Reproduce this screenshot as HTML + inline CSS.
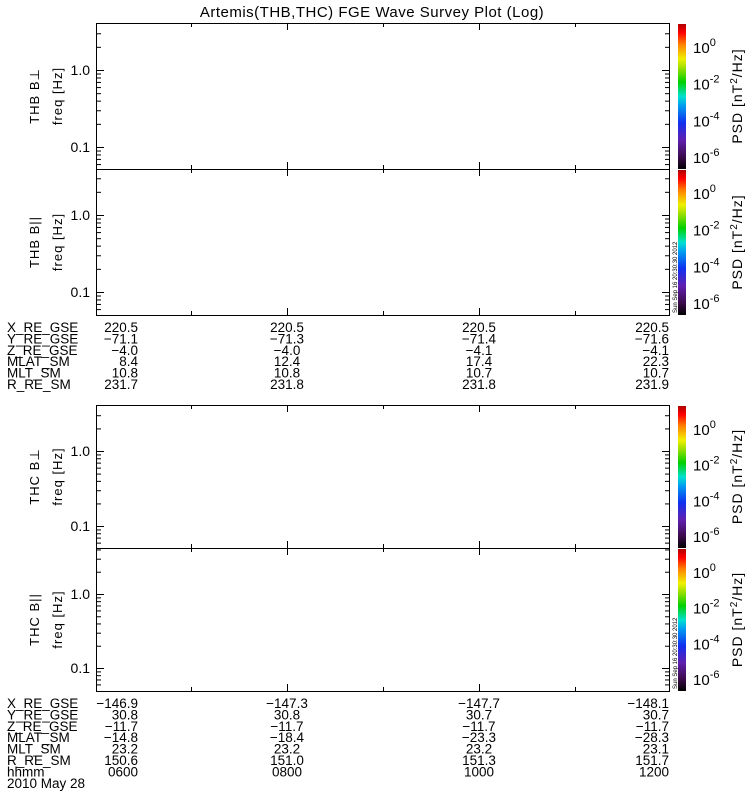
<!DOCTYPE html>
<html><head><meta charset="utf-8"><style>
body{margin:0;background:#fff;width:750px;height:800px;overflow:hidden}
svg{display:block}
text{font-family:"Liberation Sans",sans-serif;fill:#000}
</style></head><body>
<svg id="s" width="750" height="800" xmlns="http://www.w3.org/2000/svg">
<defs>
<linearGradient id="cb" x1="0" y1="1" x2="0" y2="0">
<stop offset="0" stop-color="#000"/>
<stop offset="0.08" stop-color="#3a0a48"/>
<stop offset="0.2" stop-color="#6020b0"/>
<stop offset="0.32" stop-color="#1030f0"/>
<stop offset="0.44" stop-color="#00a0f0"/>
<stop offset="0.5" stop-color="#00e0d0"/>
<stop offset="0.6" stop-color="#00d000"/>
<stop offset="0.7" stop-color="#a0e000"/>
<stop offset="0.76" stop-color="#f0f000"/>
<stop offset="0.86" stop-color="#ff8000"/>
<stop offset="0.94" stop-color="#ff0000"/>
<stop offset="1" stop-color="#b00000"/>
</linearGradient>
</defs>
<text x="372" y="17" font-size="15" text-anchor="middle" letter-spacing="0.5">Artemis(THB,THC) FGE Wave Survey Plot (Log)</text>
</svg>
<script>
const s=document.getElementById('s');const NS='http://www.w3.org/2000/svg';
function el(t,a,txt){const e=document.createElementNS(NS,t);for(const k in a)e.setAttribute(k,a[k]);if(txt!==undefined)e.textContent=txt;s.appendChild(e);return e;}
function line(x1,y1,x2,y2){el('line',{x1,y1,x2,y2,stroke:'#000','stroke-width':1});}
const L=96,R=669;
const panels=[[23,169,70,147,'THB B⊥'],[169,315,215,292,'THB B||'],[405,548,451,526,'THC B⊥'],[548,691,594,668,'THC B||']];
panels.forEach(([t,b,y1,y01,lab],i)=>{
 el('rect',{x:L+.5,y:t+.5,width:R-L,height:b-t,fill:'none',stroke:'#000'});
 const dec=y01-y1;
 for(let d=-2;d<=1;d++){for(let m=1;m<10;m++){
   const y=y01-(d+1+Math.log10(m))*dec;
   if(y<t+1||y>b-1)continue;
   const len=m==1?8:5;
   line(L,y+.5,L+len,y+.5);line(R-len+1,y+.5,R+1,y+.5);
 }}
 [287,479].forEach(x=>{line(x+.5,b,x+.5,b-7);line(x+.5,t,x+.5,t+7);});
 [191,383,575].forEach(x=>{line(x+.5,b,x+.5,b-4);line(x+.5,t,x+.5,t+4);});
 el('text',{x:90,y:y1+5,'font-size':14,'text-anchor':'end'},'1.0');
 el('text',{x:90,y:y01+5,'font-size':14,'text-anchor':'end'},'0.1');
 const cy=(t+b)/2;
 el('text',{x:0,y:0,'font-size':13,'text-anchor':'middle','letter-spacing':1,transform:`translate(39,${cy}) rotate(-90)`},lab);
 el('text',{x:0,y:0,'font-size':13,'text-anchor':'middle','letter-spacing':1,transform:`translate(62,${cy}) rotate(-90)`},'freq [Hz]');
 el('rect',{x:678,y:t+1,width:8,height:b-t-1,fill:'url(#cb)'});
 const c0=t+24, step=(b-t-36)/3;
 ['0','-2','-4','-6'].forEach((e,k)=>{
   const y=c0+k*step;
   const g=el('text',{x:693,y:y+6,'font-size':15},'10');
   const sp=document.createElementNS(NS,'tspan');sp.setAttribute('dy','-7');sp.setAttribute('font-size','11');sp.textContent=e;g.appendChild(sp);
 });
 const g=el('text',{x:0,y:0,'font-size':14,'text-anchor':'middle','letter-spacing':1,transform:`translate(742,${cy}) rotate(-90)`},'PSD [nT');
 const sp=document.createElementNS(NS,'tspan');sp.setAttribute('dy','-5');sp.setAttribute('font-size','10');sp.textContent='2';g.appendChild(sp);
 const sp2=document.createElementNS(NS,'tspan');sp2.setAttribute('dy','5');sp2.textContent='/Hz]';g.appendChild(sp2);
 if(i==1||i==3){el('text',{x:0,y:0,'font-size':6,transform:`translate(677,${b-2}) rotate(-90)`},'Sun Sep 16 20:30:30 2012');}
});
function table(y0,rows){
 rows.forEach((r,k)=>{const y=y0+k*11.4;
  el('text',{x:7,y,'font-size':13.5},r[0]);
  el('text',{x:138,y,'font-size':13.5,'text-anchor':'end'},r[1]);
  [287,479,669].forEach((x,j)=>el('text',{x,y,'font-size':13.5,'text-anchor':j==2?'end':'middle'},r[j+2]));
 });
}
table(332,[['X_RE_GSE','220.5','220.5','220.5','220.5'],['Y_RE_GSE','−71.1','−71.3','−71.4','−71.6'],['Z_RE_GSE','−4.0','−4.0','−4.1','−4.1'],['MLAT_SM','8.4','12.4','17.4','22.3'],['MLT_SM','10.8','10.8','10.7','10.7'],['R_RE_SM','231.7','231.8','231.8','231.9']]);
table(708,[['X_RE_GSE','−146.9','−147.3','−147.7','−148.1'],['Y_RE_GSE','30.8','30.8','30.7','30.7'],['Z_RE_GSE','−11.7','−11.7','−11.7','−11.7'],['MLAT_SM','−14.8','−18.4','−23.3','−28.3'],['MLT_SM','23.2','23.2','23.2','23.1'],['R_RE_SM','150.6','151.0','151.3','151.7'],['hhmm','0600','0800','1000','1200']]);
el('text',{x:7,y:708+7*11.4,'font-size':13.5},'2010 May 28');
</script>
</body></html>
